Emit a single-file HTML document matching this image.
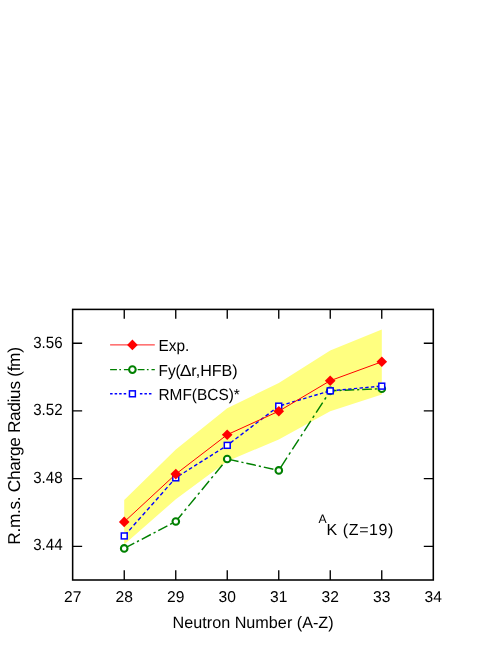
<!DOCTYPE html>
<html>
<head>
<meta charset="utf-8">
<style>
html,body{margin:0;padding:0;background:#fff;}
body{width:498px;height:645px;overflow:hidden;}
svg{display:block;position:absolute;left:0;top:0;will-change:transform;}
text{font-family:"Liberation Sans",sans-serif;fill:#000;text-rendering:geometricPrecision;}
</style>
</head>
<body>
<svg width="498" height="645" viewBox="0 0 498 645">
<rect x="0" y="0" width="498" height="645" fill="#fff"/>
<polygon fill="#ffff80" points="124.2,499.9 175.8,449.5 227.2,408.2 278.8,383.0 330.2,350.5 381.8,329.4 381.8,394.5 330.2,411.2 278.8,439.4 227.2,461.2 175.8,499.2 124.2,544.6"/>
<path fill="none" stroke="#008000" stroke-width="1.45" d="M125.19 547.91L134.28 543.16M137.00 541.74L139.02 540.69M141.74 539.27L150.83 534.51M153.55 533.09L155.57 532.04M158.29 530.62L167.39 525.87M170.10 524.45L172.12 523.40M174.84 521.98L175.75 521.50M175.75 521.50L182.37 513.47M184.56 510.80L186.19 508.83M188.39 506.16L195.74 497.24M197.94 494.57L199.57 492.59M201.77 489.92L209.12 481.00M211.32 478.33L212.95 476.36M215.15 473.69L222.50 464.77M224.70 462.10L226.33 460.12M228.91 459.37L238.49 461.49M241.36 462.12L243.48 462.59M246.35 463.23L255.93 465.35M258.79 465.98L260.92 466.45M263.78 467.09L273.37 469.21M276.23 469.84L278.35 470.31M280.43 467.80L286.97 457.69M288.93 454.67L290.38 452.43M292.33 449.41L298.87 439.31M300.82 436.28L302.27 434.05M304.23 431.02L310.76 420.92M312.72 417.90L314.17 415.66M316.12 412.64L322.66 402.53M324.61 399.51L326.06 397.27M328.02 394.25L330.25 390.80M330.25 390.80L336.63 390.54M339.53 390.42L341.68 390.33M344.58 390.22L354.27 389.82M357.17 389.70L359.32 389.61M362.22 389.50L371.92 389.10M374.82 388.98L376.97 388.90M379.86 388.78L381.75 388.70"/>
<g fill="#fff" stroke="#008000" stroke-width="2.05"><circle cx="124.2" cy="548.4" r="3.3"/><circle cx="175.8" cy="521.5" r="3.3"/><circle cx="227.2" cy="459.0" r="3.3"/><circle cx="278.8" cy="470.4" r="3.3"/><circle cx="330.2" cy="390.8" r="3.3"/><circle cx="381.8" cy="388.7" r="3.3"/></g>
<path fill="none" stroke="#0000ff" stroke-width="1.4" d="M124.80 535.38L127.45 532.38M129.24 530.36L131.90 527.36M133.69 525.33L136.34 522.33M138.14 520.30L140.79 517.31M142.59 515.28L145.24 512.28M147.03 510.25L149.69 507.25M151.48 505.22L154.14 502.23M155.93 500.20L158.58 497.20M160.38 495.17L163.03 492.17M164.83 490.15L167.48 487.15M169.27 485.12L171.93 482.12M173.72 480.09L175.75 477.80M175.75 477.80L176.48 477.34M178.58 476.01L181.68 474.06M183.78 472.73L186.89 470.77M188.98 469.45L192.09 467.49M194.19 466.16L197.29 464.21M199.39 462.88L202.49 460.92M204.59 459.60L207.70 457.64M209.80 456.31L212.90 454.36M215.00 453.03L218.10 451.07M220.20 449.75L223.30 447.79M225.40 446.47L227.25 445.30M227.25 445.30L228.46 444.38M230.49 442.84L233.48 440.56M235.50 439.02L238.49 436.74M240.52 435.20L243.51 432.92M245.53 431.38L248.53 429.11M250.55 427.57L253.54 425.29M255.56 423.75L258.56 421.47M260.58 419.93L263.57 417.65M265.60 416.11L268.59 413.83M270.61 412.29L273.60 410.02M275.63 408.48L278.62 406.20M280.86 405.47L284.18 404.49M286.43 403.82L289.76 402.83M292.01 402.16L295.34 401.17M297.59 400.50L300.92 399.51M303.17 398.85L306.49 397.86M308.74 397.19L312.07 396.20M314.32 395.53L317.65 394.54M319.90 393.88L323.23 392.89M325.48 392.22L328.80 391.23M331.07 390.73L334.46 390.42M336.76 390.21L340.15 389.90M342.45 389.69L345.84 389.38M348.13 389.17L351.53 388.86M353.82 388.65L357.21 388.34M359.51 388.13L362.90 387.82M365.20 387.61L368.59 387.30M370.89 387.09L374.28 386.78M376.57 386.57L379.97 386.26"/>
<g fill="#fff" stroke="#0000ff" stroke-width="1.5"><rect x="121.3" y="533.0" width="5.9" height="5.9"/><rect x="172.8" y="474.9" width="5.9" height="5.9"/><rect x="224.3" y="442.4" width="5.9" height="5.9"/><rect x="275.8" y="403.2" width="5.9" height="5.9"/><rect x="327.3" y="387.9" width="5.9" height="5.9"/><rect x="378.8" y="383.2" width="5.9" height="5.9"/></g>
<polyline fill="none" stroke="#ff0000" stroke-width="1.0" points="124.2,521.9 175.8,474.1 227.2,434.7 278.8,411.2 330.2,380.7 381.8,361.8"/>
<g fill="#ff0000"><path d="M124.2 516.6l5.3 5.3-5.3 5.3-5.3-5.3z"/><path d="M175.8 468.8l5.3 5.3-5.3 5.3-5.3-5.3z"/><path d="M227.2 429.4l5.3 5.3-5.3 5.3-5.3-5.3z"/><path d="M278.8 405.9l5.3 5.3-5.3 5.3-5.3-5.3z"/><path d="M330.2 375.4l5.3 5.3-5.3 5.3-5.3-5.3z"/><path d="M381.8 356.5l5.3 5.3-5.3 5.3-5.3-5.3z"/></g>
<!-- frame -->
<rect x="72.65" y="309.40" width="360.65" height="270.60" fill="none" stroke="#000" stroke-width="1.55"/>
<g stroke="#000" stroke-width="1.35">
<path d="M124.25 309.40v9.3M175.75 309.40v9.3M227.25 309.40v9.3M278.75 309.40v9.3M330.25 309.40v9.3M381.75 309.40v9.3"/>
<path d="M124.25 580.00v-9.7M175.75 580.00v-9.7M227.25 580.00v-9.7M278.75 580.00v-9.7M330.25 580.00v-9.7M381.75 580.00v-9.7"/>
<path d="M72.65 343.20h9.5M72.65 410.90h9.5M72.65 478.60h9.5M72.65 546.30h9.5"/>
<path d="M433.30 343.20h-9.5M433.30 410.90h-9.5M433.30 478.60h-9.5M433.30 546.30h-9.5"/>
</g>
<!-- tick labels -->
<g font-size="15.6px" text-anchor="middle">
<text x="72.75" y="602.4">27</text><text x="124.25" y="602.4">28</text><text x="175.75" y="602.4">29</text><text x="227.25" y="602.4">30</text><text x="278.75" y="602.4">31</text><text x="330.25" y="602.4">32</text><text x="381.75" y="602.4">33</text><text x="433.25" y="602.4">34</text>
</g>
<g font-size="16.2px" text-anchor="end">
<text x="62.6" y="347.8" textLength="29.4" lengthAdjust="spacingAndGlyphs">3.56</text><text x="62.6" y="415.3" textLength="29.4" lengthAdjust="spacingAndGlyphs">3.52</text><text x="62.6" y="482.85" textLength="29.4" lengthAdjust="spacingAndGlyphs">3.48</text><text x="62.6" y="550.35" textLength="29.4" lengthAdjust="spacingAndGlyphs">3.44</text>
</g>
<text x="253.1" y="627.6" font-size="16.5px" text-anchor="middle" textLength="161.1" lengthAdjust="spacingAndGlyphs">Neutron Number (A-Z)</text>
<text transform="translate(20.3,445.9) rotate(-90)" font-size="17.2px" text-anchor="middle" textLength="197.6" lengthAdjust="spacing">R.m.s. Charge Radius (fm)</text>
<!-- legend -->
<line x1="110.1" y1="344.9" x2="154.8" y2="344.9" stroke="#ff0000" stroke-width="0.9"/>
<path d="M132.4 339.6l5.3 5.3-5.3 5.3-5.3-5.3z" fill="#ff0000"/>
<line x1="110.1" y1="369.6" x2="154.8" y2="369.6" stroke="#008000" stroke-width="1.45" stroke-dasharray="6.8 2.4 1.7 2.9"/>
<circle cx="132.4" cy="369.6" r="3.3" fill="#fff" stroke="#008000" stroke-width="2.05"/>
<line x1="110.1" y1="393.8" x2="128" y2="393.8" stroke="#0000ff" stroke-width="1.45" stroke-dasharray="2.5 2.03"/>
<line x1="139.9" y1="393.8" x2="151.6" y2="393.8" stroke="#0000ff" stroke-width="1.45" stroke-dasharray="2.5 2.03"/>
<rect x="129.45" y="390.85" width="5.9" height="5.9" fill="#fff" stroke="#0000ff" stroke-width="1.5"/>
<g font-size="16px" lengthAdjust="spacingAndGlyphs">
<text x="158.5" y="351" textLength="30.8" lengthAdjust="spacingAndGlyphs">Exp.</text>
<text x="158.5" y="375.7" textLength="22.24" lengthAdjust="spacingAndGlyphs">Fy(</text><text transform="translate(179.8,375.7) scale(1.107,1)">Δ</text><text x="191.2" y="375.7" textLength="46.5" lengthAdjust="spacingAndGlyphs">r,HFB)</text>
<text x="158.5" y="400.4" textLength="81.27" lengthAdjust="spacingAndGlyphs">RMF(BCS)*</text>
</g>
<text x="318.4" y="523.1" font-size="12.2px">A</text>
<text x="326.6" y="534.5" font-size="16px" letter-spacing="0.58">K (Z=19)</text>
</svg>
</body>
</html>
